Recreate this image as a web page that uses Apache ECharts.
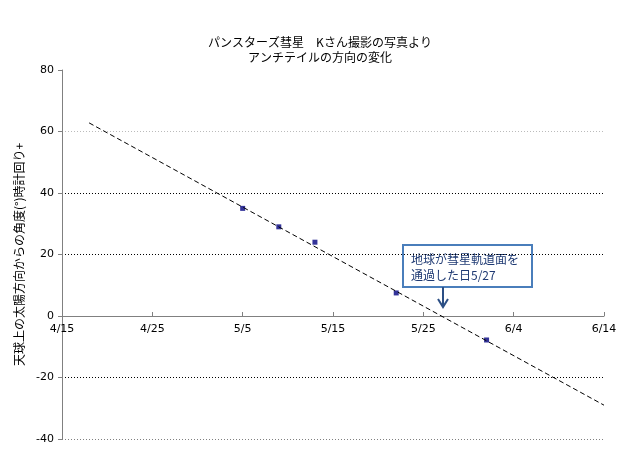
<!DOCTYPE html>
<html><head><meta charset="utf-8">
<script src="https://cdn.jsdelivr.net/npm/echarts@6/dist/echarts.min.js"></script>
<style>body{margin:0;background:#fff}#chart{width:640px;height:460px}</style>
</head><body><div id="chart"></div>
<script>
// days counted from 4/15
var tickLabels = ['4/15', '4/25', '5/5', '5/15', '5/25', '6/4', '6/14'];
var obsDays = [20, 24, 28, 37, 47];
var obsAngles = [35, 29, 24, 7.5, -7.8];
var trendDays = [3, 60];
var trendAngles = [62.8, -29];

var myChart = echarts.init(document.getElementById('chart'));
var font = '"Noto Sans CJK JP", sans-serif';
var option = {
	animation: false,
	title: {
		text: 'パンスターズ彗星　Kさん撮影の写真より\nアンチテイルの方向の変化',
		left: 'center', top: 30,
		textStyle: {fontSize: 12, fontWeight: 'normal', color: '#000', fontFamily: font, lineHeight: 15}
	},
	grid: {left: 62, right: 36, top: 70, bottom: 21},
	xAxis: {
		type: 'value', min: 0, max: 60, interval: 10,
		// sit the axis on y = 0 (grid height 369px, zero is 123px above the bottom)
		axisLine: {onZero: false, lineStyle: {color: '#808080'}},
		offset: -123,
		axisTick: {show: true, inside: true, length: 4, lineStyle: {color: '#808080'}},
		axisLabel: {
			color: '#000', fontSize: 11, fontFamily: 'DejaVu Sans', margin: 8,
			formatter: function (v) { return tickLabels[v / 10]; }
		},
		splitLine: {show: false}
	},
	yAxis: {
		type: 'value', min: -40, max: 80, interval: 20,
		name: '天球上の太陽方向からの角度(°)時計回り+',
		nameLocation: 'middle', nameGap: 35,
		nameTextStyle: {fontSize: 12, color: '#000', fontFamily: font},
		axisLine: {show: true, lineStyle: {color: '#808080'}},
		axisTick: {show: true, length: 4, lineStyle: {color: '#808080'}},
		axisLabel: {color: '#000', fontSize: 11, fontFamily: 'DejaVu Sans'},
		splitLine: {lineStyle: {color: ['#808080', '#000', 'rgba(0,0,0,0)', '#000', '#000', '#bbb', 'rgba(0,0,0,0)'], type: [1, 2], width: 1}}
	},
	series: [
		{
			type: 'line', data: trendDays.map(function (d, i) { return [d, trendAngles[i]]; }),
			symbol: 'none', lineStyle: {color: '#000', width: 1, type: [5, 3]}
		},
		{
			type: 'scatter', data: obsDays.map(function (d, i) { return [d, obsAngles[i]]; }),
			symbol: 'rect', symbolSize: 5, itemStyle: {color: '#000080'}
		}
	],
	graphic: [
		{type: 'rect', shape: {x: 403, y: 245, width: 129, height: 42},
			style: {fill: '#fff', stroke: '#4a7ebb', lineWidth: 2}},
		{type: 'text', x: 411, y: 251,
			style: {text: '地球が彗星軌道面を\n通過した日5/27', fill: '#1f3a73', font: '12px ' + font, lineHeight: 16}},
		{type: 'line', shape: {x1: 443, y1: 287, x2: 443, y2: 305}, style: {stroke: '#2c4f85', lineWidth: 2}},
		{type: 'polyline', shape: {points: [[438, 299], [443, 307], [448, 299]]}, style: {stroke: '#2c4f85', lineWidth: 2, fill: null}}
	]
};
myChart.setOption(option);
</script></body></html>
